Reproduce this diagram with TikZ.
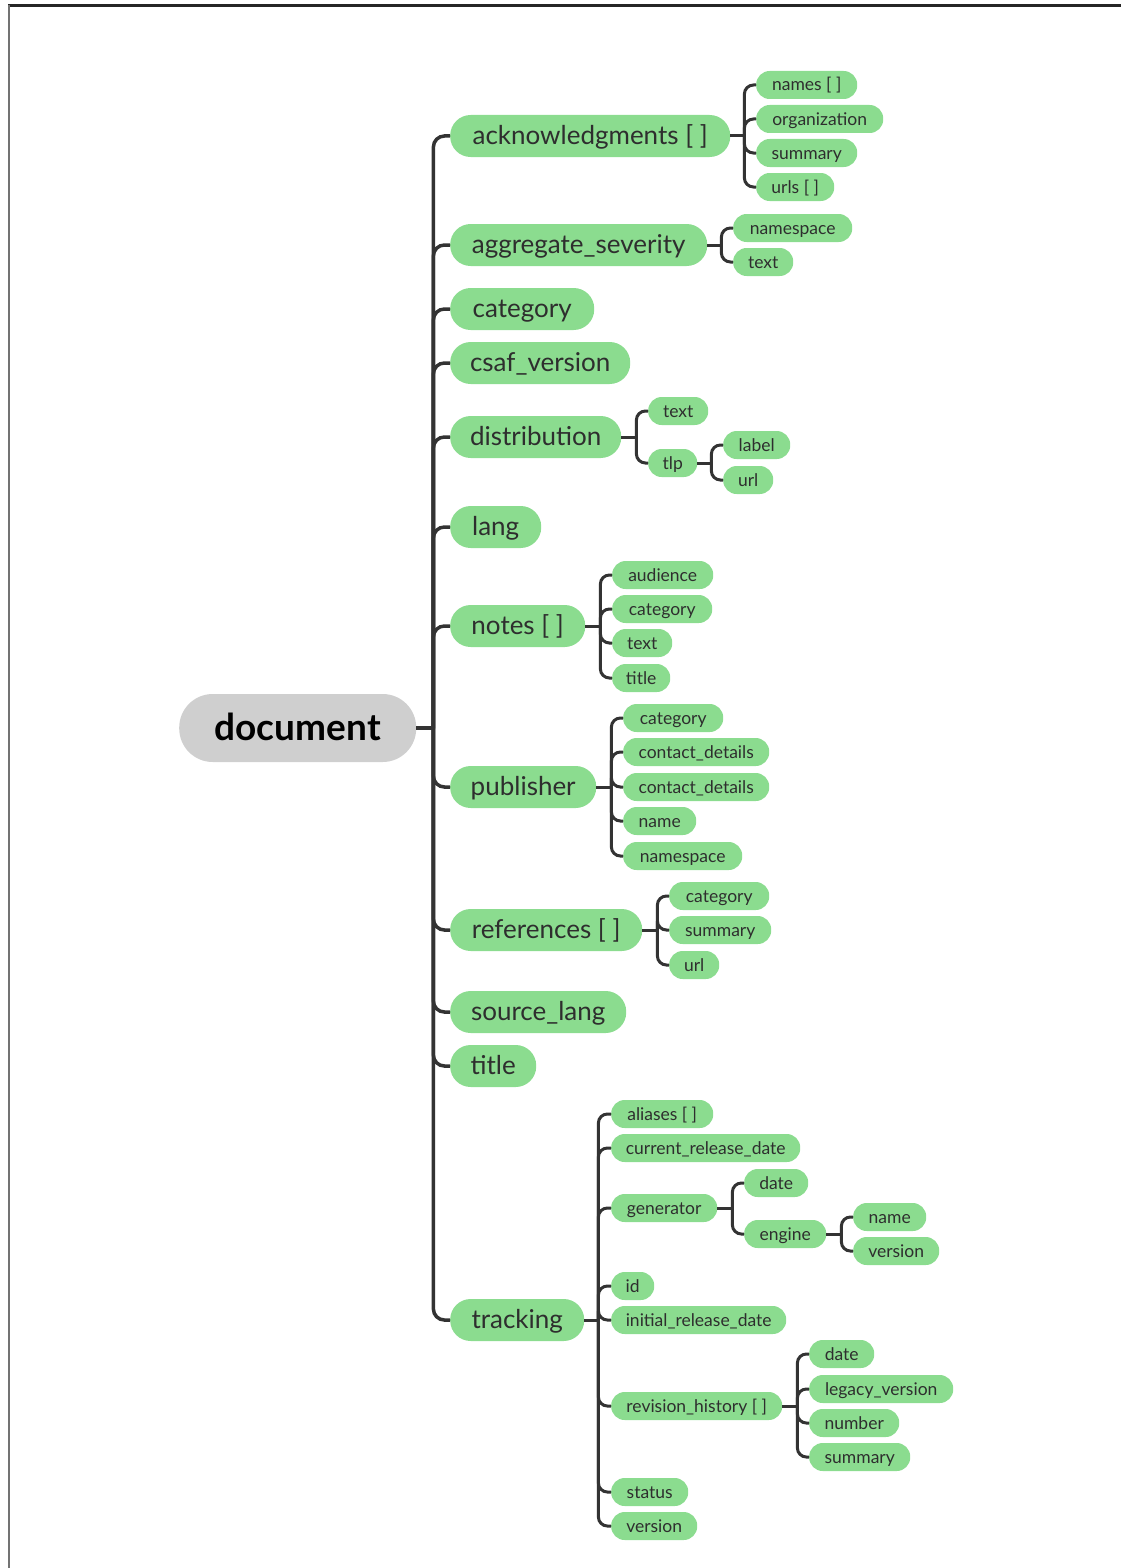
\documentclass[tikz,border=0pt]{standalone}
\usepackage{fontspec}
\setmainfont{Lato}
\definecolor{pill}{HTML}{8BDC8F}
\definecolor{docgray}{HTML}{CFCFCF}
\definecolor{wirec}{HTML}{333333}
\definecolor{txt}{HTML}{2E2E2E}
\begin{document}
\begin{tikzpicture}[x=1pt,y=-1pt,
  base/.style={anchor=west, fill=pill, text=txt, inner xsep=0pt, inner ysep=0pt},
  lvone/.style={base, minimum height=42pt, rounded corners=20.5pt, text height=17pt, text depth=0pt, font=\fontsize{26}{26}\selectfont},
  leaf/.style={base, minimum height=28pt, rounded corners=13.5pt, text height=12pt, text depth=0pt, font=\fontsize{17.5}{17.5}\selectfont},
  root/.style={anchor=west, fill=docgray, text=black, minimum height=68pt, rounded corners=33.5pt, inner xsep=0pt, inner ysep=0pt, text height=24pt, text depth=0pt, font=\fontsize{37}{37}\selectfont\bfseries},
  wd/.style={minimum width=#1pt},
  conn/.style={draw=wirec, line width=3pt, rounded corners=9pt},
  trunkline/.style={draw=wirec, line width=3.5pt, rounded corners=11pt}]
\useasboundingbox (0,0) rectangle (1121,1568);
% frame
\draw[draw=black!85, line width=3pt] (8,5.5) -- (1121,5.5);
\draw[draw=black!55, line width=2pt] (9,5) -- (9,1568);

% root
\node[root, wd=237] (doc) at (179,728) {document};

% level one
\node[lvone, wd=280] (ack) at (450,136) {acknowledgments [ ]};
\node[lvone, wd=257] (agg) at (450,245) {aggregate\_severity};
\node[lvone, wd=144] (cat) at (450,309) {category};
\node[lvone, wd=180] (csaf) at (450,363) {csaf\_version};
\node[lvone, wd=171] (dist) at (450,437) {distribution};
\node[lvone, wd=91] (lang) at (450,527) {lang};
\node[lvone, wd=135] (notes) at (450,626) {notes [ ]};
\node[lvone, wd=146] (pub) at (450,787) {publisher};
\node[lvone, wd=192] (refs) at (450,930) {references [ ]};
\node[lvone, wd=176] (src) at (450,1012) {source\_lang};
\node[lvone, wd=86] (title) at (450,1066) {title};
\node[lvone, wd=134] (track) at (450,1320) {tracking};

% acknowledgments children
\node[leaf, wd=101] (ack1) at (756,85) {names [ ]};
\node[leaf, wd=127] (ack2) at (756,119) {organization};
\node[leaf, wd=101] (ack3) at (756,153) {summary};
\node[leaf, wd=78] (ack4) at (756,187) {urls [ ]};

% aggregate_severity children
\node[leaf, wd=119] (agg1) at (733,228) {namespace};
\node[leaf, wd=60] (agg2) at (733,262) {text};

% distribution children
\node[leaf, wd=60] (dist1) at (648,411) {text};
\node[leaf, wd=49] (tlp) at (648,463) {tlp};
\node[leaf, wd=67] (tlp1) at (723,445) {label};
\node[leaf, wd=50] (tlp2) at (723,480) {url};

% notes children
\node[leaf, wd=101] (notes1) at (612,575) {audience};
\node[leaf, wd=100] (notes2) at (612,609) {category};
\node[leaf, wd=60] (notes3) at (612,643) {text};
\node[leaf, wd=58] (notes4) at (612,678) {title};

% publisher children
\node[leaf, wd=100] (pub1) at (623,718) {category};
\node[leaf, wd=146] (pub2) at (623,752) {contact\_details};
\node[leaf, wd=146] (pub3) at (623,787) {contact\_details};
\node[leaf, wd=73] (pub4) at (623,821) {name};
\node[leaf, wd=119] (pub5) at (623,856) {namespace};

% references children
\node[leaf, wd=100] (refs1) at (669,896) {category};
\node[leaf, wd=102] (refs2) at (669,930) {summary};
\node[leaf, wd=50] (refs3) at (669,965) {url};

% tracking children
\node[leaf, wd=102] (tr1) at (611,1114) {aliases [ ]};
\node[leaf, wd=189] (tr2) at (611,1148) {current\_release\_date};
\node[leaf, wd=106] (gen) at (611,1208) {generator};
\node[leaf, wd=43] (tr4) at (611,1286) {id};
\node[leaf, wd=175] (tr5) at (611,1320) {initial\_release\_date};
\node[leaf, wd=171] (rev) at (611,1406) {revision\_history [ ]};
\node[leaf, wd=77] (tr7) at (611,1492) {status};
\node[leaf, wd=86] (tr8) at (611,1526) {version};

% generator children
\node[leaf, wd=64] (gen1) at (744,1183) {date};
\node[leaf, wd=82] (eng) at (744,1234) {engine};
\node[leaf, wd=73] (eng1) at (853,1217) {name};
\node[leaf, wd=86] (eng2) at (853,1251) {version};

% revision_history children
\node[leaf, wd=65] (rev1) at (809,1354) {date};
\node[leaf, wd=144] (rev2) at (809,1389) {legacy\_version};
\node[leaf, wd=90] (rev3) at (809,1423) {number};
\node[leaf, wd=101] (rev4) at (809,1457) {summary};

% junction coordinates
\coordinate (jdoc) at ([xshift=17pt]doc.east);
\coordinate (jack) at ([xshift=14pt]ack.east);
\coordinate (jagg) at ([xshift=14pt]agg.east);
\coordinate (jdist) at ([xshift=15pt]dist.east);
\coordinate (jtlp) at ([xshift=14pt]tlp.east);
\coordinate (jnotes) at ([xshift=15pt]notes.east);
\coordinate (jpub) at ([xshift=15pt]pub.east);
\coordinate (jrefs) at ([xshift=15pt]refs.east);
\coordinate (jtrack) at ([xshift=14pt]track.east);
\coordinate (jgen) at ([xshift=15pt]gen.east);
\coordinate (jeng) at ([xshift=15pt]eng.east);
\coordinate (jrev) at ([xshift=15pt]rev.east);

% root connectors
\draw[trunkline] (doc.east) -- (jdoc);
\foreach \c in {ack,agg,cat,csaf,dist,lang,notes,pub,refs,src,title,track}
  \draw[trunkline] (jdoc) |- (\c.west);

% branch connectors
\draw[conn] (ack.east) -- (jack);
\foreach \c in {ack1,ack2,ack3,ack4} \draw[conn] (jack) |- (\c.west);
\draw[conn] (agg.east) -- (jagg);
\foreach \c in {agg1,agg2} \draw[conn] (jagg) |- (\c.west);
\draw[conn] (dist.east) -- (jdist);
\foreach \c in {dist1,tlp} \draw[conn] (jdist) |- (\c.west);
\draw[conn] (tlp.east) -- (jtlp);
\foreach \c in {tlp1,tlp2} \draw[conn] (jtlp) |- (\c.west);
\draw[conn] (notes.east) -- (jnotes);
\foreach \c in {notes1,notes2,notes3,notes4} \draw[conn] (jnotes) |- (\c.west);
\draw[conn] (pub.east) -- (jpub);
\foreach \c in {pub1,pub2,pub3,pub4,pub5} \draw[conn] (jpub) |- (\c.west);
\draw[conn] (refs.east) -- (jrefs);
\foreach \c in {refs1,refs2,refs3} \draw[conn] (jrefs) |- (\c.west);
\draw[conn] (track.east) -- (jtrack);
\foreach \c in {tr1,tr2,gen,tr4,tr5,rev,tr7,tr8} \draw[conn] (jtrack) |- (\c.west);
\draw[conn] (gen.east) -- (jgen);
\foreach \c in {gen1,eng} \draw[conn] (jgen) |- (\c.west);
\draw[conn] (eng.east) -- (jeng);
\foreach \c in {eng1,eng2} \draw[conn] (jeng) |- (\c.west);
\draw[conn] (rev.east) -- (jrev);
\foreach \c in {rev1,rev2,rev3,rev4} \draw[conn] (jrev) |- (\c.west);
\end{tikzpicture}
\end{document}
